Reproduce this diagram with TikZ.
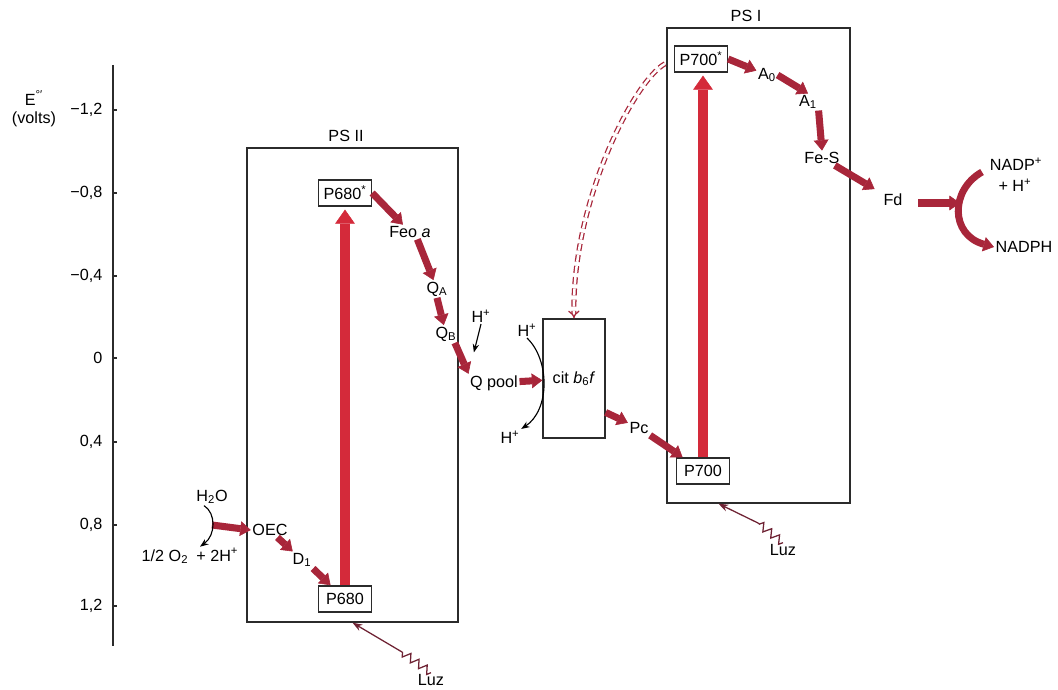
\documentclass[tikz,border=0pt]{standalone}
\usepackage{fontspec}
\setmainfont{Liberation Sans}
\usepackage{xcolor}
\definecolor{cRed}{HTML}{D42A3A}
\definecolor{cMaroon}{HTML}{A8263A}
\definecolor{cLine}{HTML}{2B2B2B}
\definecolor{cRay}{HTML}{6E2233}
\usepackage{tikz}
\usetikzlibrary{positioning,arrows.meta,decorations.pathmorphing}
\tikzset{
  lbl/.style={inner sep=1pt},
  node-sys/.style={draw=cLine,line width=0.9pt,inner sep=0pt},
  node-pig/.style={draw=cLine,line width=1.1pt,inner sep=2pt,
    minimum width=1.32cm,minimum height=0.65cm},
  axis-line/.style={line width=1pt,draw=cLine},
  % electron transfer: big excitation arrows and small chain arrows
  arrow-big/.style={-{Triangle[length=10pt,width=14pt,line width=0.4pt]},
    line width=7pt,draw=cRed,shorten >=2pt},
  arrow-e/.style={-{Triangle[length=7.5pt,width=10.5pt,line width=0.4pt]},
    line width=5pt,draw=cMaroon},
  arrow-thin/.style={-{Stealth[length=6pt,width=4.5pt]},line width=0.8pt,draw=black},
  arrow-cyc/.style={-{Implies},draw=cMaroon,double=white,double distance=1.8pt,
    line width=0.9pt,dash pattern=on 5pt off 3pt},
  light-ray/.style={-{Stealth[length=7pt,width=5pt]},line width=0.9pt,draw=cRay,
    decoration={zigzag,segment length=0.25cm,amplitude=0.1cm}},
}

\begin{document}
\begin{tikzpicture}[x=0.025cm,y=-0.025cm,font=\fontsize{11.5}{13.5}\selectfont]
  \useasboundingbox (0,0) rectangle (1058,690);
  % potential axis
  \draw[axis-line] (113,65) -- (113,646);
  \foreach \yy/\lbl [count=\i] in {110/{−1,2},193/{−0,8},276/{−0,4},358/{0},
      442/{0,4},525/{0,8},606/{1,2}}{
    \draw[axis-line] (113,\yy) -- ++(4,0);
    \node[lbl,anchor=east] (tick\i) at (104,\yy) {\lbl};
  }
  \node[lbl] (eaxis) at (34,98) {E\textsuperscript{°′}};
  \node[lbl] (volts) at (34,119) {(volts)};

  % photosystems and cytochrome
  \node[node-sys,minimum width=5.275cm,minimum height=11.85cm] (ps2) at (352.5,385) {};
  \node[lbl] (ps2-title) at (346,136) {PS II};
  \node[node-sys,minimum width=4.575cm,minimum height=11.875cm] (ps1) at (758.5,265.5) {};
  \node[lbl] (ps1-title) at (746,16) {PS I};
  \node[node-sys,minimum width=1.55cm,minimum height=2.975cm] (cyt) at (574,378.5)
    {cit \textit{b}\textsubscript{6}\textit{f}};

  % PS II side
  \node[node-pig] (p680) at (345,599) {P680};
  \node[node-pig] (p680s) at (345,193) {P680\textsuperscript{*}};
  \node[lbl] (feo) at (410,232) {Feo \textit{a}};
  \node[lbl] (qa) at (437,289) {Q\textsubscript{A}};
  \node[lbl] (qb) at (446,334) {Q\textsubscript{B}};
  \node[lbl] (hq) at (481,316) {H\textsuperscript{+}};
  \node[lbl] (qpool) at (494,383) {Q pool};
  \node[lbl] (h2o) at (212,497) {H\textsubscript{2}O};
  \node[lbl] (o2) at (190,556) {1/2 O\textsubscript{2}\enspace + 2H\textsuperscript{+}};
  \node[lbl] (oec) at (270,530) {OEC};
  \node[lbl] (d1) at (302,560) {D\textsubscript{1}};
  \node[lbl] (hin) at (527,330) {H\textsuperscript{+}};
  \node[lbl] (hout) at (510,437) {H\textsuperscript{+}};
  \node[lbl] (pc) at (639,428) {Pc};

  % PS I side
  \node[node-pig] (p700) at (703,471) {P700};
  \node[node-pig] (p700s) at (701,59) {P700\textsuperscript{*}};
  \node[lbl] (a0) at (767,75) {A\textsubscript{0}};
  \node[lbl] (a1) at (808,102) {A\textsubscript{1}};
  \node[lbl] (fes) at (822,158) {Fe-S};
  \node[lbl] (fd) at (893,200) {Fd};
  \node[lbl] (nadp) at (1016,164) {NADP\textsuperscript{+}};
  \node[lbl] (hplus) at (1015,185) {+ H\textsuperscript{+}};
  \node[lbl] (nadph) at (1024,247) {NADPH};
  \node[lbl] (luz2) at (431,680) {Luz};
  \node[lbl] (luz1) at (783,550) {Luz};
  \coordinate (nadpin) at (982,172);
  \coordinate (nadpbend) at (960,203);
  \coordinate (h2obend) at (212,525);
  \coordinate (kink2) at (402,652);
  \coordinate (kink1) at (758,523);

  % excitation
  \draw[arrow-big] (p680.north) -- (p680s.south);
  \draw[arrow-big] (p700.north) -- (p700.north |- p700s.south);

  % electron chain
  \draw[arrow-e] (h2obend) -- (oec.west);
  \draw[arrow-e] (oec.-45) -- (d1);
  \draw[arrow-e] (d1.south east) -- (p680);
  \draw[arrow-e] (p680s.east) -- (feo);
  \draw[arrow-e] (feo.-45) -- (qa);
  \draw[arrow-e] (qa.south) -- (qb);
  \draw[arrow-e] (qb.-45) -- (qpool.north west);
  \draw[arrow-e] (qpool) -- (cyt);
  \draw[arrow-e] (cyt.-47) -- (pc);
  \draw[arrow-e] (pc.south east) -- (p700);
  \draw[arrow-e] (p700s.east) -- (a0);
  \draw[arrow-e] (a0.east) -- (a1.north);
  \draw[arrow-e] (a1.south east) -- (fes.north);
  \draw[arrow-e,shorten >=6pt] (fes.-30) -- (fd);
  \draw[arrow-e,shorten <=10pt] (fd.east |- nadpbend) -- (nadpbend);
  \draw[arrow-e] (nadpin) .. controls (950,190) and (950,235) .. (nadph.west);

  % protons and water
  \draw[arrow-thin,shorten >=0.55cm] (hq.south) -- (qpool.north west);
  \draw[arrow-thin] (hin.south) .. controls (550,360) and (550,410) .. (hout.north east);
  \draw[arrow-thin] ([xshift=-0.2cm]h2o.south) .. controls (216,513) and (216,535)
    .. ([xshift=0.25cm]o2.north);

  % cyclic flow
  \draw[arrow-cyc,shorten <=0.25cm] (p700s.west) .. controls (635,80) and (572,200) .. (cyt.north);

  % light
  \draw[light-ray] (luz2.north) decorate{-- (kink2)} -- (ps2.south);
  \draw[light-ray] (luz1.north) decorate{-- (kink1)} -- ([xshift=-1cm]ps1.south);
\end{tikzpicture}
\end{document}
